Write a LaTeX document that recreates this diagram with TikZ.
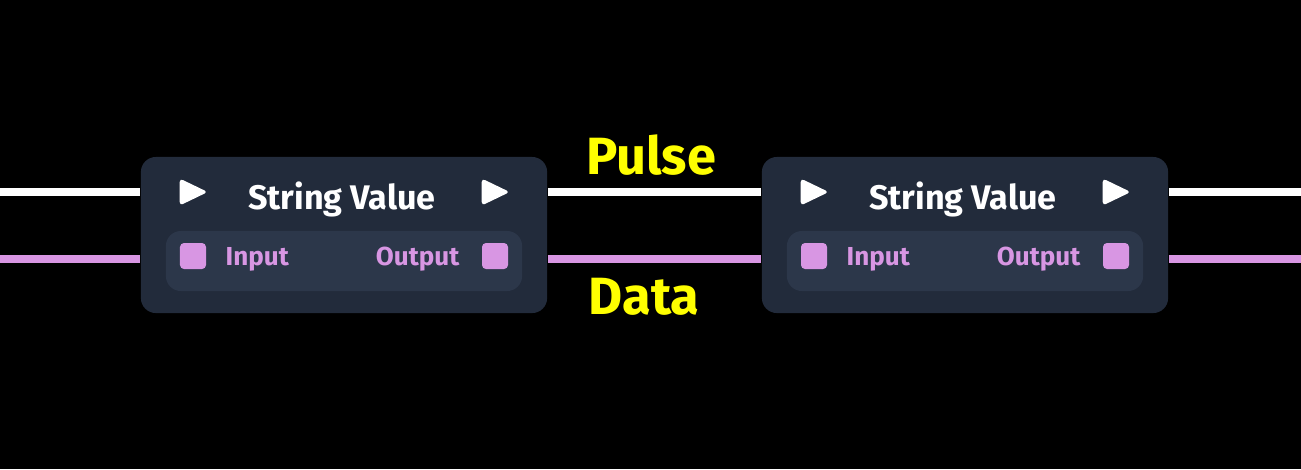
\documentclass[tikz,border=0pt]{standalone}
\usepackage{fontspec}
\setmainfont{Fira Sans}
\usepackage{tikz}
\usetikzlibrary{shapes.geometric}
\definecolor{canvas}{RGB}{0,0,0}
\definecolor{blockfill}{RGB}{34,43,59}
\definecolor{panelfill}{RGB}{44,55,74}
\definecolor{datapink}{RGB}{216,150,227}
\definecolor{signyellow}{RGB}{255,255,0}
\tikzset{
  block/.style={fill=blockfill,rounded corners=0.15cm,minimum width=4.06cm,minimum height=1.56cm,inner sep=0pt},
  panel/.style={fill=panelfill,rounded corners=0.15cm,minimum width=3.56cm,minimum height=0.6cm,inner sep=0pt},
  pulsewire/.style={draw=white,line width=0.08cm},
  datawire/.style={draw=datapink,line width=0.08cm},
  pulseport/.style={isosceles triangle,isosceles triangle stretches,fill=white,rounded corners=0.035cm,inner sep=0pt,minimum width=0.27cm,minimum height=0.28cm,anchor=west},
  dataport/.style={fill=datapink,rounded corners=0.04cm,minimum size=0.26cm,inner sep=0pt},
  title/.style={text=white,font=\bfseries\fontsize{9.7}{12}\selectfont},
  portlabel/.style={text=datapink,inner sep=0pt,font=\bfseries\fontsize{7.4}{9}\selectfont},
  wirelabel/.style={text=signyellow,font=\bfseries\fontsize{14.9}{17}\selectfont}
}
\begin{document}
\begin{tikzpicture}[x=0.01cm,y=-0.01cm]
  \fill[canvas] (0,0) rectangle (1301,469);
  \useasboundingbox (0,0) rectangle (1301,469);

  % first block
  \node[block] (first) at (344,235) {};
  \node[panel] (firstpanel) at (344,261) {};
  \node[pulseport] (firstin) at (179,192) {};
  \node[pulseport] (firstout) at (481,192) {};
  \node[title] (firsttitle) at (342,199) {String Value};
  \node[dataport] (firstdin) at (193,256) {};
  \node[dataport] (firstdout) at (495,256) {};
  \node[portlabel,anchor=west] (firstinlabel) at (225,259) {Input};
  \node[portlabel,anchor=east] (firstoutlabel) at (460,259) {Output};

  % second block
  \node[block] (second) at (965,235) {};
  \node[panel] (secondpanel) at (965,261) {};
  \node[pulseport] (secondin) at (800,192) {};
  \node[pulseport] (secondout) at (1102,192) {};
  \node[title] (secondtitle) at (963,199) {String Value};
  \node[dataport] (seconddin) at (814,256) {};
  \node[dataport] (seconddout) at (1116,256) {};
  \node[portlabel,anchor=west] (secondinlabel) at (846,259) {Input};
  \node[portlabel,anchor=east] (secondoutlabel) at (1081,259) {Output};

  % wires
  \coordinate (pulseleft) at (0,192);
  \coordinate (pulseright) at (1301,192);
  \coordinate (dataleft) at (0,259);
  \coordinate (dataright) at (1301,259);
  \draw[pulsewire] (pulseleft) -- (first.west |- pulseleft);
  \draw[pulsewire] (first.east |- pulseleft) -- (second.west |- pulseleft);
  \draw[pulsewire] (second.east |- pulseright) -- (pulseright);
  \draw[datawire] (dataleft) -- (first.west |- dataleft);
  \draw[datawire] (first.east |- dataleft) -- (second.west |- dataleft);
  \draw[datawire] (second.east |- dataright) -- (dataright);

  \node[wirelabel] (pulselabel) at (651,155) {Pulse};
  \node[wirelabel] (datalabel) at (644,297) {Data};
\end{tikzpicture}
\end{document}
